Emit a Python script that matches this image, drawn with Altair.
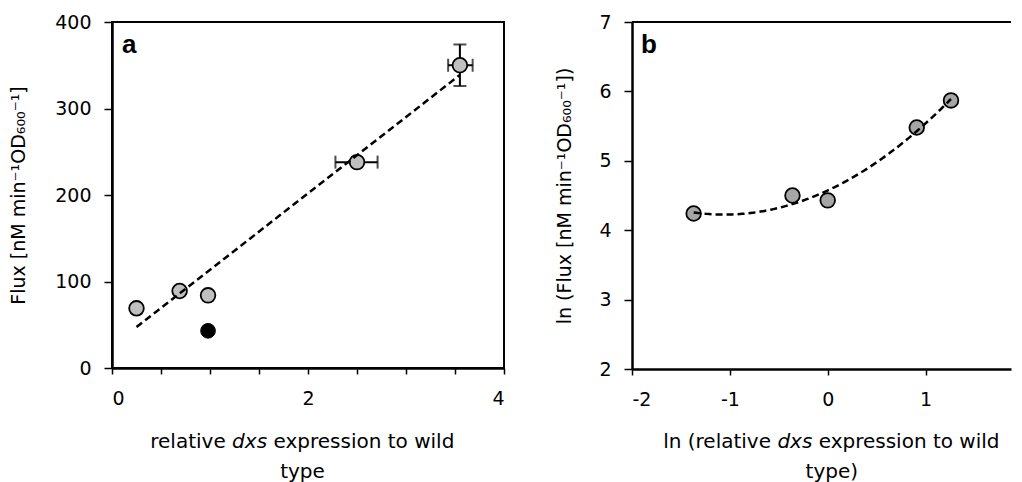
import altair as alt
import pandas as pd

# Panel a data
a_x = [0.25, 0.69, 0.98, 2.50, 3.55]
a_y = [69, 89, 84, 238, 350]
black_x = [0.98]
black_y = [43]
# horizontal error bars (x range at given y)
hx_y = [238, 350]
hx_lo = [2.28, 3.43]
hx_hi = [2.71, 3.68]
# vertical error bars (y range at given x)
vy_x = [3.55]
vy_lo = [326]
vy_hi = [374]

# Panel b data
b_x = [-1.37, -0.36, 0.00, 0.91, 1.26]
b_y = [4.24, 4.50, 4.43, 5.48, 5.87]

FONT = "DejaVu Sans, sans-serif"
LFONT = "Liberation Sans, Arial, sans-serif"
FS = 19
TS = 20
W, H = 392, 346
WB = 379  # panel b is cut at the right edge, as in the reference

df_a = pd.DataFrame({"x": a_x, "y": a_y})
df_black = pd.DataFrame({"x": black_x, "y": black_y})
df_hx = pd.DataFrame({"y": hx_y, "lo": hx_lo, "hi": hx_hi})
df_vy = pd.DataFrame({"x": vy_x, "lo": vy_lo, "hi": vy_hi})
df_b = pd.DataFrame({"x": b_x, "y": b_y})

ax_common = dict(
    domainColor="black", domainWidth=2.5, tickColor="black", tickWidth=1.5,
    labelFont=FONT, labelFontSize=FS, labelColor="black", grid=False,
    titleFont=FONT, titleFontSize=FS, titleColor="black", titleFontWeight="normal",
)

xa = alt.X("x:Q", scale=alt.Scale(domain=[0, 4], nice=False),
           axis=alt.Axis(values=[0, 0.5, 1, 1.5, 2, 2.5, 3, 3.5, 4],
                         labelExpr="datum.value % 2 == 0 ? datum.value + '' : ''",
                         tickSize=6, labelPadding=15, title="", **ax_common))
ya = alt.Y("y:Q", scale=alt.Scale(domain=[0, 400], nice=False),
           axis=alt.Axis(values=[0, 100, 200, 300, 400], tickSize=8, labelPadding=13,
                         labelExpr="datum.value + ''",
                         title="Flux [nM  min⁻¹OD₆₀₀⁻¹]", titlePadding=26, **ax_common))

EB = 2
base_a = alt.Chart(df_a)
pts_a = base_a.mark_point(filled=True, size=215, fill="#c0c0c0", stroke="black",
                          strokeWidth=1.8, opacity=1).encode(x=xa, y=ya)
blk = alt.Chart(df_black).mark_point(filled=True, size=215, fill="black", stroke="black",
                                     strokeWidth=1, opacity=1).encode(x="x:Q", y="y:Q")
hx_rule = alt.Chart(df_hx).mark_rule(color="black", strokeWidth=EB).encode(
    x="lo:Q", x2="hi:Q", y="y:Q")
hx_cap_lo = alt.Chart(df_hx).mark_tick(color="black", thickness=EB, size=13,
                                       orient="vertical").encode(x="lo:Q", y="y:Q")
hx_cap_hi = alt.Chart(df_hx).mark_tick(color="black", thickness=EB, size=13,
                                       orient="vertical").encode(x="hi:Q", y="y:Q")
vy_rule = alt.Chart(df_vy).mark_rule(color="black", strokeWidth=EB).encode(
    x="x:Q", y="lo:Q", y2="hi:Q")
vy_cap_lo = alt.Chart(df_vy).mark_tick(color="black", thickness=EB, size=13,
                                       orient="horizontal").encode(x="x:Q", y="lo:Q")
vy_cap_hi = alt.Chart(df_vy).mark_tick(color="black", thickness=EB, size=13,
                                       orient="horizontal").encode(x="x:Q", y="hi:Q")
fit_a = base_a.transform_regression("x", "y", extent=[0.25, 3.55]).mark_line(
    color="black", strokeWidth=2.5, strokeDash=[7, 4]).encode(x="x:Q", y="y:Q")


def txt(s, x, y, align="left", style="normal", weight="normal", size=TS, font=FONT):
    return alt.Chart(pd.DataFrame({"t": [s]})).mark_text(
        font=font, fontSize=size, fontStyle=style, fontWeight=weight, align=align,
        baseline="alphabetic", color="black").encode(
        text="t:N", x=alt.value(x), y=alt.value(y))


lab_a = txt("a", 10, 31, weight="bold", size=26, font=LFONT)
ta1 = txt("relative", 113.7, H + 80, align="right")
ta2 = txt("dxs", 120.1, H + 80, style="italic")
ta3 = txt("expression to wild", 161.5, H + 80)
ta4 = txt("type", 190.5, H + 110, align="center")

chart_a = alt.layer(hx_rule, hx_cap_lo, hx_cap_hi, vy_rule, vy_cap_lo, vy_cap_hi,
                    pts_a, blk, fit_a, lab_a, ta1, ta2, ta3, ta4).properties(
    width=W, height=H, view=alt.ViewBackground(stroke="black", strokeWidth=2))

xb = alt.X("x:Q", scale=alt.Scale(domain=[-2, -2 + WB / 97.85], nice=False),
           axis=alt.Axis(values=[-2, -1, 0, 1], tickSize=6, labelPadding=15, title="",
                         labelExpr="datum.value + ''", **ax_common))
yb = alt.Y("y:Q", scale=alt.Scale(domain=[2, 7], nice=False),
           axis=alt.Axis(values=[2, 3, 4, 5, 6, 7], tickSize=8, labelPadding=13,
                         labelExpr="datum.value + ''",
                         title="ln (Flux [nM min⁻¹OD₆₀₀⁻¹])", titlePadding=24, **ax_common))
base_b = alt.Chart(df_b)
pts_b = base_b.mark_point(filled=True, size=215, fill="#a6a6a6", stroke="black",
                          strokeWidth=1.8, opacity=1).encode(x=xb, y=yb)
fit_b = base_b.transform_regression("x", "y", method="poly", order=2,
                                    extent=[-1.37, 1.26]).mark_line(
    color="black", strokeWidth=2.5, strokeDash=[7, 4]).encode(x="x:Q", y="y:Q")
top_b = alt.Chart(pd.DataFrame({"t": [0]})).mark_rule(color="black", strokeWidth=2).encode(
    x=alt.value(0), x2=alt.value(WB), y=alt.value(0))
lab_b = txt("b", 9, 31, weight="bold", size=26, font=LFONT)
tb1 = txt("ln (relative", 139, H + 80, align="right")
tb2 = txt("dxs", 145.4, H + 80, style="italic")
tb3 = txt("expression to wild", 186.7, H + 80)
tb4 = txt("type)", 199.8, H + 110, align="center")

chart_b = alt.layer(top_b, pts_b, fit_b, lab_b, tb1, tb2, tb3, tb4).properties(
    width=WB, height=H + 1, view=alt.ViewBackground(strokeWidth=0))

chart = alt.hconcat(chart_a, chart_b, spacing=49).properties(
    padding={"left": 0, "top": 4, "right": 0, "bottom": 0}
).configure(background="white")

chart.save("out.html", embed_options={"renderer": "svg", "actions": False})
